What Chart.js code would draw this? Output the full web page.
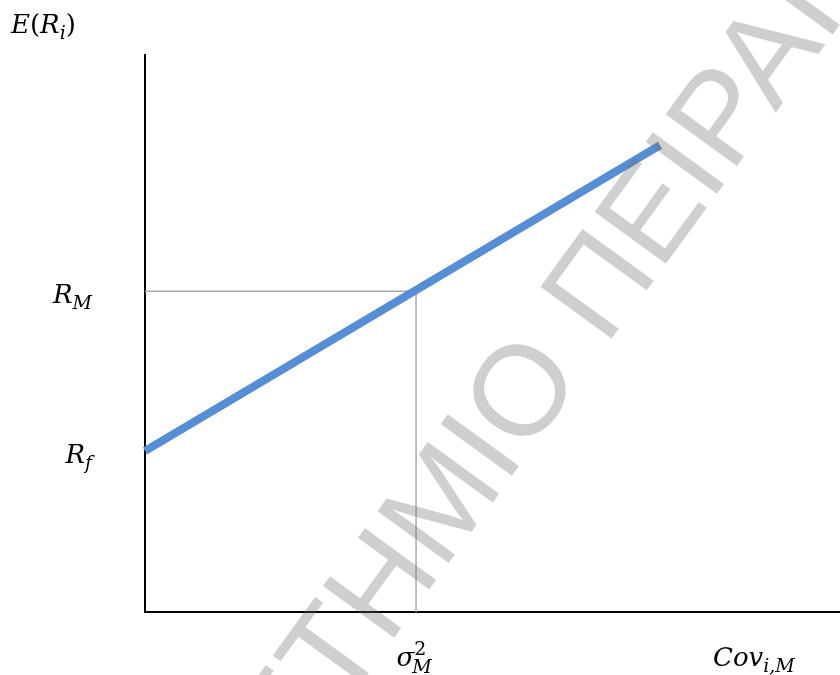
<!DOCTYPE html>
<html>
<head>
<meta charset="utf-8">
<script src="https://cdn.jsdelivr.net/npm/chart.js@4"></script>
<style>
  body { margin: 0; background: #fff; }
  canvas { display: block; }
</style>
</head>
<body>
<canvas id="sml" width="840" height="675"></canvas>
<script>
// security market line (x = Cov(i,M), y = E(Ri))
const lineX = [0, 7.41];
const lineY = [2.89, 8.38];

// market point and guide lines to the axes
const marketCov = 3.9;
const marketRet = 5.76;
const riskFree = 2.89;
const guideX = [0, marketCov, marketCov];
const guideY = [marketRet, marketRet, 0];

// labels on the axes
const yTickLabels = [
  { value: marketRet, main: 'R', sub: 'M' },
  { value: riskFree, main: 'R', sub: 'f' }
];
const xTickLabels = [
  { value: marketCov, main: 'σ', sub: 'M', sup: '2' }
];

const watermark = 'ΠΑΝΕΠΙΣΤΗΜΙΟ ΠΕΙΡΑΙΩΣ';

const mathFont = '"DejaVu Serif", serif';
const mainSize = 26;
const smallSize = 19;

function drawMath(ctx, x, y, parts) {
  // parts: [text, italic, kind] kind = 'n' | 'sub' | 'sup'
  let cx = x;
  let i = 0;
  while (i < parts.length) {
    const p = parts[i];
    const small = p[2] !== 'n';
    ctx.font = (p[1] ? 'italic ' : '') + (small ? smallSize : mainSize) + 'px ' + mathFont;
    let dy = 0;
    if (p[2] === 'sub') dy = 6;
    if (p[2] === 'sup') dy = -11;
    ctx.fillText(p[0], cx, y + dy);
    let w = ctx.measureText(p[0]).width;
    // sup and sub stacked at same x
    if (p[2] === 'sup' && parts[i + 1] && parts[i + 1][2] === 'sub') {
      const q = parts[i + 1];
      ctx.font = (q[1] ? 'italic ' : '') + smallSize + 'px ' + mathFont;
      ctx.fillText(q[0], cx - 2, y + 7);
      w = Math.max(w, ctx.measureText(q[0]).width - 2);
      i++;
    }
    cx += w;
    i++;
  }
  return cx - x;
}

function mathWidth(ctx, parts) {
  ctx.save();
  ctx.fillStyle = 'rgba(0,0,0,0)';
  const w = drawMath(ctx, -1000, -1000, parts);
  ctx.restore();
  return w;
}

const labelsPlugin = {
  id: 'labels',
  afterDraw(chart) {
    const ctx = chart.ctx;
    const xs = chart.scales.x;
    const ys = chart.scales.y;
    ctx.save();
    ctx.fillStyle = '#000';
    ctx.textBaseline = 'alphabetic';
    ctx.textAlign = 'left';

    // y axis title
    drawMath(ctx, 11, 33, [['E', true, 'n'], ['(', false, 'n'], ['R', true, 'n'], ['i', true, 'sub'], [')', false, 'n']]);

    yTickLabels.forEach(t => {
      const parts = [[t.main, true, 'n'], [t.sub, true, 'sub']];
      const w = mathWidth(ctx, parts);
      drawMath(ctx, xs.left - 53 - w, ys.getPixelForValue(t.value) + 12, parts);
    });

    xTickLabels.forEach(t => {
      const parts = [[t.main, true, 'n'], [t.sup, false, 'sup'], [t.sub, true, 'sub']];
      const w = mathWidth(ctx, parts);
      drawMath(ctx, xs.getPixelForValue(t.value) - w / 2 - 2, ys.bottom + 54, parts);
    });

    // x axis title
    drawMath(ctx, 713, ys.bottom + 54, [['Cov', true, 'n'], ['i,M', true, 'sub']]);

    // watermark, anchored on the centre of the O of ΠΑΝΕΠΙΣΤΗΜΙΟ
    const wmSize = 128;
    ctx.font = wmSize + 'px "Liberation Sans", Arial, sans-serif';
    const pre = ctx.measureText('ΠΑΝΕΠΙΣΤΗΜΙ').width;
    const oW = ctx.measureText('Ο').width;
    ctx.translate(518, 389);
    ctx.rotate(-54 * Math.PI / 180);
    ctx.fillStyle = 'rgba(110,110,110,0.33)';
    ctx.fillText(watermark, -pre - oW / 2, wmSize * 0.36);
    ctx.restore();
  }
};

const toPoints = (xs, ys) => xs.map((x, i) => ({ x: x, y: ys[i] }));

new Chart(document.getElementById('sml'), {
  type: 'scatter',
  data: {
    datasets: [
      {
        label: 'SML',
        data: toPoints(lineX, lineY),
        showLine: true,
        borderColor: '#558ed5',
        borderWidth: 8,
        pointRadius: 0,
        borderCapStyle: 'butt',
        clip: false,
        order: 0
      },
      {
        label: 'guide',
        data: toPoints(guideX, guideY),
        showLine: true,
        borderColor: '#a8a8a8',
        borderWidth: 1.5,
        pointRadius: 0,
        order: 1
      }
    ]
  },
  options: {
    responsive: false,
    animation: false,
    layout: { padding: { left: 137, top: 55, right: 0, bottom: 55 } },
    plugins: { legend: { display: false }, tooltip: { enabled: false } },
    scales: {
      x: {
        min: 0, max: 10,
        ticks: { display: false },
        grid: { display: false },
        border: { display: true, color: '#000', width: 2 }
      },
      y: {
        min: 0, max: 10,
        ticks: { display: false },
        grid: { display: false },
        border: { display: true, color: '#000', width: 2 }
      }
    }
  },
  plugins: [labelsPlugin]
});
</script>
</body>
</html>
